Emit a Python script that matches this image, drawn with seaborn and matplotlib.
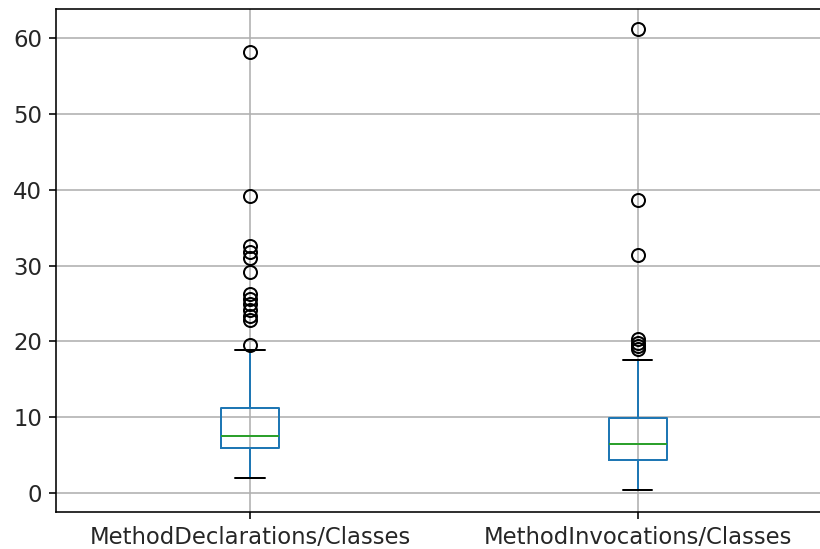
import matplotlib
matplotlib.use("Agg")
import matplotlib.pyplot as plt
import seaborn as sns

# Per-column box summaries (ratios per class)
columns = ["MethodDeclarations/Classes", "MethodInvocations/Classes"]
whisker_low = [2.0, 0.4]
q1 = [6.0, 4.45]
median = [7.5, 6.55]
q3 = [11.2, 9.9]
whisker_high = [18.9, 17.6]
outliers_decl = [58.1, 39.2, 32.6, 31.8, 31.0, 29.1, 26.3, 25.6, 25.0, 24.2,
                 23.3, 22.8, 19.5]
outliers_inv = [61.1, 38.7, 31.4, 20.3, 19.8, 19.4, 19.0]
outliers = [outliers_decl, outliers_inv]

sns.set_style("whitegrid", rc={
    "axes.edgecolor": "black",
    "axes.linewidth": 0.8,
    "grid.color": "#b0b0b0",
    "grid.linewidth": 0.8,
    "xtick.bottom": True,
    "ytick.left": True,
    "xtick.color": "black",
    "ytick.color": "black",
    "axes.labelcolor": "black",
    "text.color": "black",
})
plt.rcParams["font.family"] = ["DejaVu Sans"]
plt.rcParams["font.size"] = 11.4

fig = plt.figure(figsize=(820 / 144, 549 / 144), dpi=144)
ax = fig.add_axes([56.1 / 820, 1 - 512.3 / 549, 775.5 / 820, (512.3 - 9) / 549])

stats = []
for i, name in enumerate(columns):
    stats.append({
        "label": name,
        "whislo": whisker_low[i],
        "q1": q1[i],
        "med": median[i],
        "q3": q3[i],
        "whishi": whisker_high[i],
        "fliers": outliers[i],
    })

ax.bxp(
    stats,
    positions=[1, 2],
    widths=0.15,
    boxprops=dict(color="#1f77b4", linewidth=1.0),
    whiskerprops=dict(color="#1f77b4", linewidth=1.0),
    capprops=dict(color="black", linewidth=1.0),
    medianprops=dict(color="#2ca02c", linewidth=1.0),
    flierprops=dict(marker="o", markerfacecolor="none",
                    markeredgecolor="black", markersize=6.5),
)

ax.set_xlim(0.5, 2.5)
ax.set_ylim(-2.5, 63.8)
ax.set_yticks([0, 10, 20, 30, 40, 50, 60])
ax.grid(True, axis="both")
ax.set_axisbelow(True)
ax.tick_params(direction="out", length=3.5, width=0.8, labelcolor="#262626")

fig.savefig("out.png", dpi=144)
